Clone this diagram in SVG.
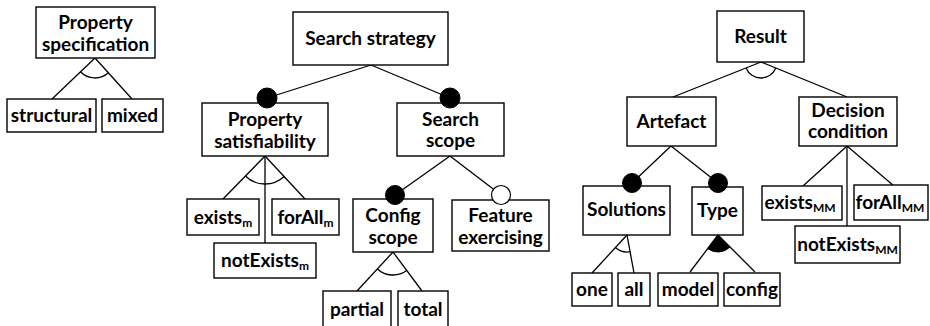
<svg xmlns="http://www.w3.org/2000/svg" width="930" height="326" viewBox="0 0 930 326">
<style>
.box{fill:#fff;stroke:#000;stroke-width:1.4}
.t{font-family:Lato,"Open Sans","Liberation Sans",sans-serif;font-weight:700;font-size:19px;fill:#000;text-anchor:middle}
.sub{font-size:12px}
.ln{stroke:#000;stroke-width:1.3;fill:none}
.arc{stroke:#000;stroke-width:1.3;fill:none}
.mand{fill:#000;stroke:#000;stroke-width:1}
.opt{fill:#fff;stroke:#000;stroke-width:1.2}
</style>
<rect width="930" height="326" fill="#fff"/>
<g id="connectors">
<line class="ln" x1="95" y1="58" x2="52" y2="99"/>
<line class="ln" x1="95" y1="58" x2="132" y2="99"/>
<path class="arc" d="M80.5,71.8 A20,20 0 0 0 108.4,72.8"/>
<line class="ln" x1="371" y1="65" x2="267" y2="98"/>
<line class="ln" x1="371" y1="65" x2="450" y2="98"/>
<line class="ln" x1="265" y1="156" x2="223" y2="199"/>
<line class="ln" x1="265" y1="156" x2="305" y2="199"/>
<line class="ln" x1="265" y1="156" x2="265" y2="243"/>
<path class="arc" d="M245.4,176 A28,28 0 0 0 284.1,176.5"/>
<line class="ln" x1="450" y1="156" x2="395" y2="195"/>
<line class="ln" x1="450" y1="156" x2="501" y2="195"/>
<line class="ln" x1="393" y1="252" x2="357" y2="291"/>
<line class="ln" x1="393" y1="252" x2="422" y2="291"/>
<path class="arc" d="M377.4,268.9 A23,23 0 0 0 406.7,270.5"/>
<line class="ln" x1="761" y1="62" x2="673" y2="97"/>
<line class="ln" x1="761" y1="62" x2="847" y2="97"/>
<path class="arc" d="M746.1,67.9 A16,16 0 0 0 775.8,68"/>
<line class="ln" x1="671" y1="146" x2="632" y2="183"/>
<line class="ln" x1="671" y1="146" x2="718" y2="183"/>
<line class="ln" x1="627" y1="235" x2="592" y2="273"/>
<line class="ln" x1="627" y1="235" x2="634" y2="273"/>
<path class="arc" d="M615.5,247.5 A17,17 0 0 0 630.1,251.7"/>
<line class="ln" x1="718" y1="235" x2="690" y2="272"/>
<line class="ln" x1="718" y1="235" x2="755" y2="272"/>
<path d="M718,235 L707.7,248.6 A17,17 0 0 0 730,247 Z" fill="#000" stroke="#000" stroke-width="1"/>
<line class="ln" x1="847" y1="146" x2="803" y2="186"/>
<line class="ln" x1="847" y1="146" x2="894" y2="186"/>
<line class="ln" x1="847" y1="146" x2="847" y2="226"/>
</g>
<g id="property-specification"><rect class="box" x="36" y="7" width="119" height="51"/><text class="t" x="95.5" y="29">Property</text><text class="t" x="95.5" y="51">specification</text></g>
<g id="structural"><rect class="box" x="7" y="99" width="89" height="33"/><text class="t" x="51.5" y="122">structural</text></g>
<g id="mixed"><rect class="box" x="102" y="99" width="61" height="33"/><text class="t" x="132.5" y="122">mixed</text></g>
<g id="search-strategy"><rect class="box" x="293" y="12" width="155" height="53"/><text class="t" x="370.5" y="45">Search strategy</text></g>
<g id="property-satisfiability"><rect class="box" x="202" y="103" width="126" height="53"/><circle class="mand" cx="267" cy="98" r="10"/><text class="t" x="265" y="126">Property</text><text class="t" x="265" y="148">satisfiability</text></g>
<g id="search-scope"><rect class="box" x="397" y="103" width="107" height="53"/><circle class="mand" cx="450" cy="98" r="10"/><text class="t" x="450.5" y="126">Search</text><text class="t" x="450.5" y="147">scope</text></g>
<g id="exists-m"><rect class="box" x="187" y="199" width="72" height="36"/><text class="t" x="223" y="224">exists<tspan class="sub" dy="3">m</tspan></text></g>
<g id="forall-m"><rect class="box" x="272" y="199" width="67" height="36"/><text class="t" x="305.5" y="224">forAll<tspan class="sub" dy="3">m</tspan></text></g>
<g id="notexists-m"><rect class="box" x="214" y="243" width="102" height="35"/><text class="t" x="265" y="267">notExists<tspan class="sub" dy="3">m</tspan></text></g>
<g id="config-scope"><rect class="box" x="353" y="199" width="80" height="53"/><circle class="mand" cx="395" cy="195" r="9.5"/><text class="t" x="393" y="222">Config</text><text class="t" x="393" y="244">scope</text></g>
<g id="feature-exercising"><rect class="box" x="452" y="200" width="97" height="51"/><circle class="opt" cx="501" cy="195" r="9.5"/><text class="t" x="500.5" y="222">Feature</text><text class="t" x="500.5" y="244">exercising</text></g>
<g id="partial"><rect class="box" x="323" y="291" width="68" height="40"/><text class="t" x="357" y="316">partial</text></g>
<g id="total"><rect class="box" x="398" y="291" width="50" height="40"/><text class="t" x="423" y="316">total</text></g>
<g id="result"><rect class="box" x="717" y="11" width="87" height="51"/><text class="t" x="760.5" y="43">Result</text></g>
<g id="artefact"><rect class="box" x="627" y="97" width="89" height="49"/><text class="t" x="671.5" y="128">Artefact</text></g>
<g id="decision-condition"><rect class="box" x="799" y="97" width="98" height="49"/><text class="t" x="848" y="117">Decision</text><text class="t" x="848" y="138">condition</text></g>
<g id="solutions"><rect class="box" x="583" y="186" width="87" height="49"/><circle class="mand" cx="632" cy="183" r="9.5"/><text class="t" x="626.5" y="216">Solutions</text></g>
<g id="type"><rect class="box" x="692" y="187" width="51" height="48"/><circle class="mand" cx="718" cy="183" r="9.5"/><text class="t" x="717.5" y="217">Type</text></g>
<g id="one"><rect class="box" x="572" y="273" width="40" height="33"/><text class="t" x="592" y="296">one</text></g>
<g id="all"><rect class="box" x="618" y="273" width="32" height="33"/><text class="t" x="634" y="296">all</text></g>
<g id="model"><rect class="box" x="658" y="273" width="60" height="33"/><text class="t" x="688" y="296">model</text></g>
<g id="config"><rect class="box" x="724" y="273" width="56" height="33"/><text class="t" x="752" y="296">config</text></g>
<g id="exists-mm"><rect class="box" x="762" y="186" width="80" height="34"/><text class="t" x="800" y="209">exists<tspan class="sub" dy="3">MM</tspan></text></g>
<g id="forall-mm"><rect class="box" x="854" y="185" width="74" height="35"/><text class="t" x="890" y="209">forAll<tspan class="sub" dy="3">MM</tspan></text></g>
<g id="notexists-mm"><rect class="box" x="795" y="226" width="105" height="37"/><text class="t" x="847.5" y="251">notExists<tspan class="sub" dy="3">MM</tspan></text></g>
</svg>
